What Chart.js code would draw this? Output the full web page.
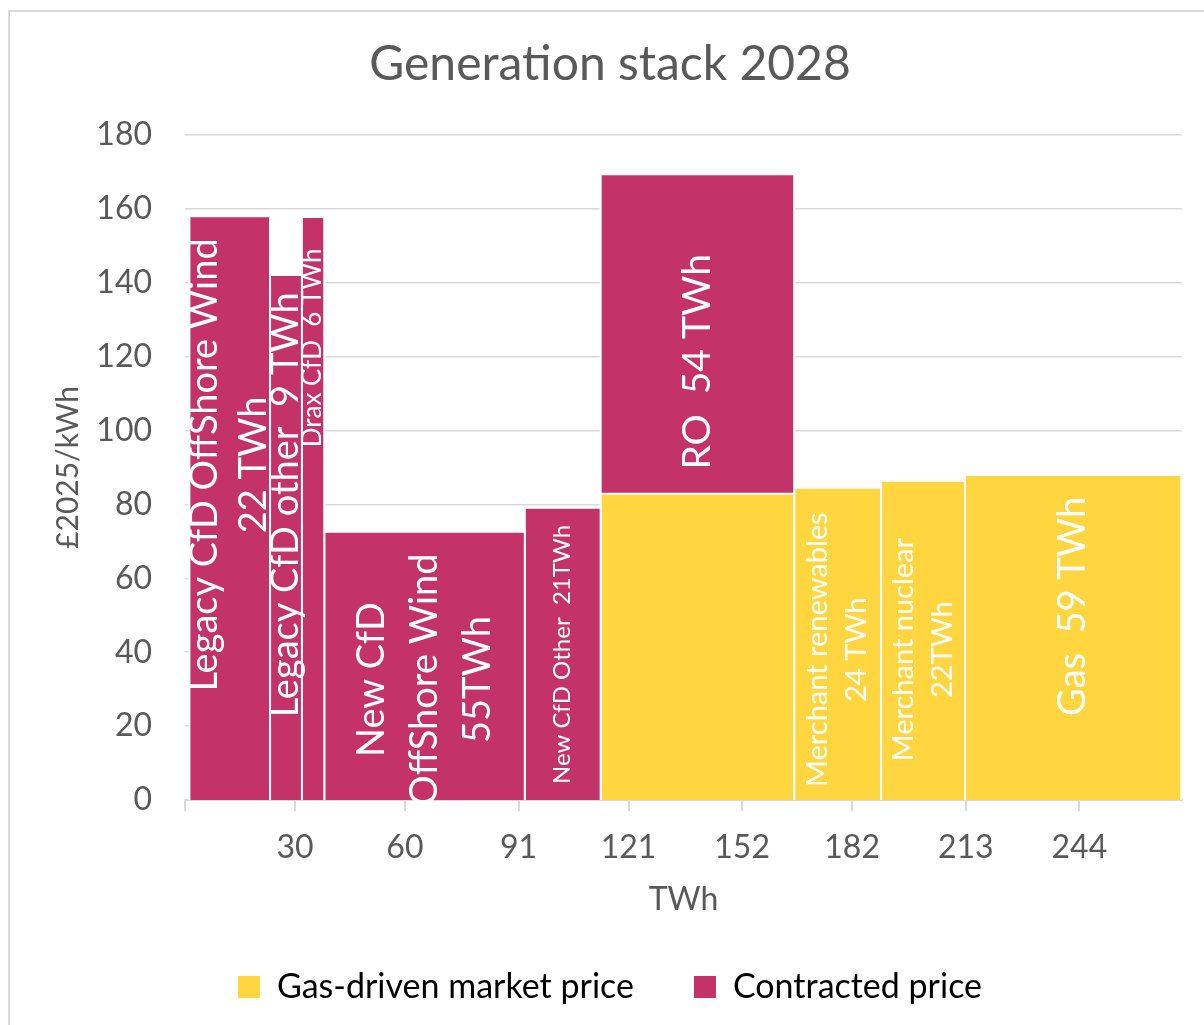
<!DOCTYPE html>
<html>
<head>
<meta charset="utf-8">
<title>Generation stack 2028</title>
<script src="https://cdn.jsdelivr.net/npm/chart.js@4.4.1/dist/chart.umd.min.js"></script>
<style>
  html, body { margin: 0; padding: 0; background: #fff; overflow: hidden; }
  #wrap { position: relative; width: 1204px; height: 1025px; overflow: hidden; }
  #frame { position: absolute; left: 8px; top: 10px; width: 1400px; height: 1200px;
           border-left: 2px solid #d9d9d9; border-top: 2px solid #d9d9d9; pointer-events: none; }
  canvas { position: absolute; left: 0; top: 0; }
</style>
</head>
<body>
<div id="wrap">
  <div id="frame"></div>
  <canvas id="stackChart" width="1204" height="1025"></canvas>
</div>
<script>
// generation stack 2028: bar width = TWh, bar height = £2025/kWh
const categories = ['Legacy CfD OffShore Wind', 'Legacy CfD other', 'Drax CfD', 'New CfD OffShore Wind',
                    'New CfD Other', 'RO', 'Merchant renewables', 'Merchant nuclear', 'Gas'];
const firstStart = 1.2;
const volumes = [22.0, 8.7, 6.1, 54.7, 20.7, 52.8, 23.7, 22.9, 59.0];
const marketPrice = [0, 0, 0, 0, 0, 82.9, 84.5, 86.4, 88.0];
const contractedPrice = [158.0, 142.1, 157.8, 72.6, 79.1, 86.5, 0, 0, 0];
const seriesNames = ['Gas-driven market price', 'Contracted price'];
const xTickValues = [30, 60, 91, 121, 152, 182, 213, 244];
const barLabels = [
    ['Legacy CfD OffShore Wind', '22 TWh'],
    ['Legacy CfD other  9 TWh'],
    ['Drax CfD  6 TWh'],
    ['New CfD', 'OffShore Wind', '55TWh'],
    ['New CfD Other  21TWh'],
    ['RO  54 TWh'],
    ['Merchant renewables', '24 TWh'],
    ['Merchant nuclear', '22TWh'],
    ['Gas  59 TWh']
];

// styles
const COLOR_MARKET = '#FFD640';
const COLOR_CONTRACT = '#C4326A';
const TEXT = '#595959';
const GRID = '#d9d9d9';
const FONT = 'Lato, "Noto Sans", sans-serif';

// where each in-bar label sits (price value at its centre), font size, line pitch
const labelStyle = [
    {y: 90.7, size: 38, pitch: 49},
    {y: 79.9, size: 38, pitch: 49},
    {y: 122.4, size: 26, pitch: 30},
    {y: 32.6, size: 38, pitch: 53},
    {y: 39.4, size: 24, pitch: 28},
    {y: 118.6, size: 39, pitch: 46},
    {y: 40.7, size: 29, pitch: 39},
    {y: 40.7, size: 29, pitch: 39},
    {y: 52.4, size: 38, pitch: 46}
];

function rect_dataset(name, x0, x1, y0, y1, color) {
    // open outline (no bottom edge) so the axis line stays visible
    return {
        label: name,
        data: [{x: x0, y: y0}, {x: x0, y: y1}, {x: x1, y: y1}, {x: x1, y: y0}],
        backgroundColor: color,
        borderColor: '#ffffff',
        borderWidth: 2,
        pointRadius: 0,
        pointHoverRadius: 0,
        tension: 0,
        fill: {value: y0}
    };
}

function build_datasets() {
    var sets = [];
    var start = firstStart;
    for (var i = 0; i < categories.length; i++) {
        var end = start + volumes[i];
        var base = marketPrice[i];
        if (base > 0)
            sets.push(rect_dataset(categories[i], start, end, 0, base, COLOR_MARKET));
        if (contractedPrice[i] > 0)
            sets.push(rect_dataset(categories[i], start, end, base, base + contractedPrice[i], COLOR_CONTRACT));
        start = end;
    }
    return sets;
}

const barLabelPlugin = {
    id: 'barLabels',
    afterDatasetsDraw: function (chart) {
        var ctx = chart.ctx;
        var xs = chart.scales.x;
        var ys = chart.scales.y;
        var start = firstStart;
        ctx.save();
        ctx.fillStyle = '#ffffff';
        ctx.textAlign = 'center';
        ctx.textBaseline = 'middle';
        for (var i = 0; i < categories.length; i++) {
            var mid = start + volumes[i] / 2;
            start += volumes[i];
            var st = labelStyle[i];
            var lines = barLabels[i];
            ctx.font = st.size + 'px ' + FONT;
            ctx.save();
            ctx.translate(xs.getPixelForValue(mid), ys.getPixelForValue(st.y));
            ctx.rotate(-Math.PI / 2);
            for (var j = 0; j < lines.length; j++) {
                ctx.fillText(lines[j], 0, (j - (lines.length - 1) / 2) * st.pitch);
            }
            ctx.restore();
        }
        ctx.restore();
    }
};

Chart.defaults.font.family = FONT;
Chart.defaults.color = TEXT;

let stackChart;
function show_stack_chart() {
    var ctx = document.getElementById('stackChart');
    if (stackChart)
        stackChart.destroy();

    stackChart = new Chart(ctx, {
        type: 'line',
        data: {datasets: build_datasets()},
        plugins: [barLabelPlugin],
        options: {
            responsive: false,
            animation: false,
            events: [],
            layout: {padding: {left: 38, right: 22, top: 0, bottom: 11}},
            plugins: {
                title: {
                    display: true,
                    text: 'Generation stack 2028',
                    color: TEXT,
                    font: {size: 48, weight: 'normal', lineHeight: 1.2},
                    padding: {top: 36, bottom: 41.4}
                },
                legend: {
                    position: 'bottom',
                    labels: {
                        boxWidth: 22,
                        boxHeight: 22,
                        padding: 60,
                        color: TEXT,
                        font: {size: 34},
                        generateLabels: function () {
                            return [
                                {text: seriesNames[0], fillStyle: COLOR_MARKET, strokeStyle: COLOR_MARKET, lineWidth: 0, hidden: false, datasetIndex: 0},
                                {text: seriesNames[1], fillStyle: COLOR_CONTRACT, strokeStyle: COLOR_CONTRACT, lineWidth: 0, hidden: false, datasetIndex: 1}
                            ];
                        }
                    }
                },
                tooltip: {enabled: false}
            },
            scales: {
                x: {
                    type: 'linear',
                    min: 0,
                    max: 272,
                    afterBuildTicks: function (s) {
                        s.ticks = [0].concat(xTickValues).map(function (v) { return {value: v}; });
                    },
                    afterFit: function (s) { s.height = 110; },
                    ticks: {
                        autoSkip: false,
                        maxRotation: 0,
                        padding: 17,
                        color: TEXT,
                        font: {size: 32},
                        callback: function (v) { return v === 0 ? '' : String(v); }
                    },
                    grid: {drawOnChartArea: false, color: GRID, lineWidth: 2, tickLength: 11},
                    border: {color: GRID, width: 2},
                    title: {display: true, text: 'TWh', color: TEXT, font: {size: 32, lineHeight: 0.625}, padding: 0}
                },
                y: {
                    min: 0,
                    max: 180,
                    afterFit: function (s) { s.width = 147; },
                    ticks: {stepSize: 20, padding: 33, color: TEXT, font: {size: 32}},
                    grid: {color: GRID, lineWidth: 1.5, drawTicks: false},
                    border: {display: false},
                    title: {display: true, text: '£2025/kWh', color: TEXT, font: {size: 30}, padding: {top: 12, bottom: 0}}
                }
            }
        }
    });
}

show_stack_chart();
</script>
</body>
</html>
